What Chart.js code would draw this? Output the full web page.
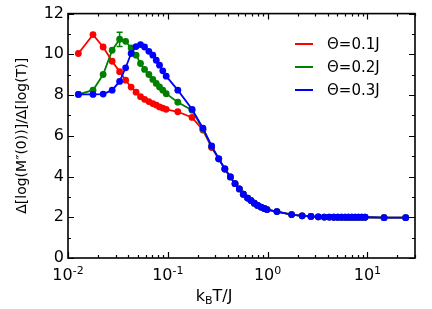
<!DOCTYPE html>
<html>
<head>
<meta charset="utf-8">
<script src="https://cdn.jsdelivr.net/npm/chart.js@4.4.1/dist/chart.umd.min.js"></script>
<style>
  html, body { margin: 0; padding: 0; background: #fff; }
</style>
</head>
<body>
<canvas id="chart" width="432" height="309"></canvas>
<script>
// temperatures k_B T / J (shared by the three curves)
const temps = [0.0127, 0.0178, 0.0225, 0.0277, 0.0329, 0.0378, 0.0429, 0.0481, 0.0533, 0.0585,
  0.0646, 0.0708, 0.0766, 0.0826, 0.0891, 0.0964, 0.126, 0.175, 0.225, 0.275,
  0.324, 0.373, 0.424, 0.472, 0.521, 0.571, 0.631, 0.682, 0.736, 0.794,
  0.859, 0.927, 0.986, 1.24, 1.74, 2.22, 2.72, 3.22, 3.7, 4.15,
  4.6, 5.05, 5.5, 5.98, 6.46, 6.98, 7.54, 8.13, 8.79, 9.48,
  14.7, 24.2];

// common tail (T >= 0.324), same for all three
const tail = [4.87, 4.37, 3.98, 3.65, 3.39, 3.13, 2.94, 2.82, 2.69, 2.58,
  2.50, 2.43, 2.38, 2.28, 2.13, 2.07, 2.04, 2.02, 2.01, 2.01,
  2.00, 2.00, 2.00, 2.00, 2.00, 2.00, 2.00, 2.00, 2.00, 2.00,
  1.98, 1.98];

const redVals = [10.04, 10.97, 10.36, 9.66, 9.15, 8.73, 8.39, 8.14, 7.92, 7.79,
  7.68, 7.58, 7.51, 7.42, 7.36, 7.30, 7.18, 6.90, 6.28, 5.42].concat(tail);
const greenVals = [8.03, 8.24, 9.01, 10.20, 10.74, 10.64, 10.31, 9.96, 9.55, 9.26,
  9.01, 8.77, 8.57, 8.40, 8.24, 8.07, 7.65, 7.26, 6.32, 5.46].concat(tail);
const blueVals = [8.03, 8.03, 8.05, 8.24, 8.67, 9.34, 10.04, 10.38, 10.48, 10.36,
  10.15, 9.96, 9.71, 9.47, 9.19, 8.93, 8.24, 7.30, 6.38, 5.50].concat(tail);

// error bar on the green peak
const errTemp = [0.0329];
const errVal = [10.74];
const errSize = [0.35];

const seriesLabels = ['Θ=0.1J', 'Θ=0.2J', 'Θ=0.3J'];
const seriesColors = ['#ff0000', '#008000', '#0000ff'];

const xTickValues = [0.01, 0.1, 1, 10];
const xTickExps = ['-2', '-1', '0', '1'];

Chart.defaults.font.family = 'DejaVu Sans';
Chart.defaults.color = '#000';

function toPoints(vals) {
  return vals.map((v, i) => ({ x: temps[i], y: v }));
}

const datasets = [redVals, greenVals, blueVals].map((vals, i) => ({
  label: seriesLabels[i],
  data: toPoints(vals),
  borderColor: seriesColors[i],
  backgroundColor: seriesColors[i],
  pointBackgroundColor: seriesColors[i],
  pointBorderWidth: 0,
  pointRadius: 3.4,
  borderWidth: 1.8,
  showLine: true,
  tension: 0,
  order: 3 - i
}));

// box, inward ticks, x labels with exponents, x title, legend, error bar
const framePlugin = {
  id: 'frame',
  afterDatasetsDraw(chart) {
    const ctx = chart.ctx;
    const x = chart.scales.x, y = chart.scales.y;
    ctx.save();
    ctx.strokeStyle = seriesColors[1];
    ctx.lineWidth = 1.5;
    errTemp.forEach((t, i) => {
      const px = x.getPixelForValue(t);
      const top = y.getPixelForValue(errVal[i] + errSize[i]);
      const bot = y.getPixelForValue(errVal[i] - errSize[i]);
      ctx.beginPath();
      ctx.moveTo(px, top); ctx.lineTo(px, bot);
      ctx.moveTo(px - 3, top); ctx.lineTo(px + 3, top);
      ctx.moveTo(px - 3, bot); ctx.lineTo(px + 3, bot);
      ctx.stroke();
    });
    ctx.restore();
  },
  afterDraw(chart) {
    const ctx = chart.ctx;
    const a = chart.chartArea;
    const x = chart.scales.x, y = chart.scales.y;
    ctx.save();
    ctx.strokeStyle = '#000';
    ctx.lineWidth = 1.2;
    ctx.beginPath();
    // x ticks top & bottom
    for (let d = -2; d <= 1; d++) {
      for (let k = 1; k <= 9; k++) {
        const v = k * Math.pow(10, d);
        if (v > 30) break;
        const px = Math.round(x.getPixelForValue(v)) + 0.5;
        const len = k === 1 ? 6 : 3;
        ctx.moveTo(px, a.bottom); ctx.lineTo(px, a.bottom - len);
        ctx.moveTo(px, a.top); ctx.lineTo(px, a.top + len);
      }
    }
    // y ticks left & right
    for (let v = 0; v <= 12; v++) {
      const py = Math.round(y.getPixelForValue(v)) + 0.5;
      const len = v % 2 === 0 ? 6 : 3;
      ctx.moveTo(a.left, py); ctx.lineTo(a.left + len, py);
      ctx.moveTo(a.right, py); ctx.lineTo(a.right - len, py);
    }
    ctx.stroke();
    ctx.lineWidth = 1.6;
    ctx.strokeRect(a.left, a.top, a.right - a.left, a.bottom - a.top);

    ctx.fillStyle = '#000';
    ctx.textBaseline = 'alphabetic';
    ctx.textAlign = 'left';
    const big = '16px "DejaVu Sans"', small = '11px "DejaVu Sans"';

    // x tick labels 10^n
    xTickValues.forEach((v, i) => {
      ctx.font = big;
      const wb = ctx.measureText('10').width;
      ctx.font = small;
      const we = ctx.measureText(xTickExps[i]).width;
      let lx = x.getPixelForValue(v) - (wb + we) / 2;
      ctx.font = big; ctx.fillText('10', lx, 280);
      ctx.font = small; ctx.fillText(xTickExps[i], lx + wb, 274);
    });

    // x axis title k_B T/J
    ctx.font = big;
    const w1 = ctx.measureText('k').width;
    const w3 = ctx.measureText('T/J').width;
    ctx.font = small;
    const w2 = ctx.measureText('B').width;
    let tx = 214 - (w1 + w2 + w3) / 2;
    const base = 301;
    ctx.font = big; ctx.fillText('k', tx, base); tx += w1;
    ctx.font = small; ctx.fillText('B', tx, base + 3); tx += w2;
    ctx.font = big; ctx.fillText('T/J', tx, base);

    // legend
    ctx.font = '15px "DejaVu Sans"';
    ctx.textBaseline = 'middle';
    seriesLabels.forEach((lab, i) => {
      const ly = 44 + i * 23;
      ctx.strokeStyle = seriesColors[i];
      ctx.lineWidth = 2;
      ctx.beginPath();
      ctx.moveTo(295, ly); ctx.lineTo(313, ly);
      ctx.stroke();
      ctx.fillText(lab, 327, ly + 1);
    });
    ctx.restore();
  }
};

new Chart(document.getElementById('chart'), {
  type: 'scatter',
  data: { datasets: datasets },
  options: {
    responsive: false,
    animation: false,
    devicePixelRatio: 1,
    layout: { padding: { top: 13, right: 17, left: 0, bottom: 0 } },
    plugins: {
      legend: { display: false },
      tooltip: { enabled: false }
    },
    scales: {
      x: {
        type: 'logarithmic',
        min: 0.01,
        max: 30,
        afterBuildTicks: s => { s.ticks = xTickValues.map(v => ({ value: v })); },
        afterFit: s => { s.height = 51; },
        ticks: { display: false },
        grid: { display: false, drawTicks: false },
        border: { display: false }
      },
      y: {
        min: 0,
        max: 12,
        afterFit: s => { s.width = 68; },
        ticks: { stepSize: 2, font: { size: 16 }, padding: 4 },
        grid: { display: false, drawTicks: false },
        border: { display: false },
        title: {
          display: true,
          text: 'Δ[log(M″(0))]/Δ[log(T)]',
          font: { size: 14 },
          padding: { top: 14, bottom: 0 }
        }
      }
    }
  },
  plugins: [framePlugin]
});
</script>
</body>
</html>
